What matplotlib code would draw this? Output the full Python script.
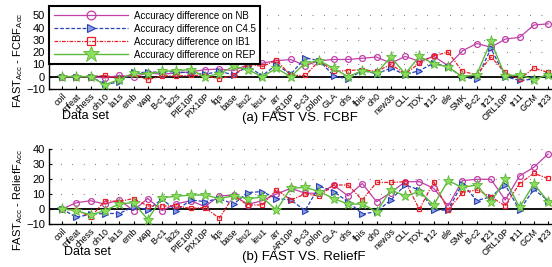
import matplotlib
matplotlib.use("Agg")
import matplotlib.pyplot as plt
import matplotlib.transforms as mtransforms
import numpy as np

plt.rcParams['font.family'] = ['Liberation Sans', 'DejaVu Sans']
plt.rcParams['mathtext.fontset'] = 'custom'
plt.rcParams['mathtext.rm'] = 'Liberation Sans'

datasets = ["coil", "mfeat", "chess", "oh10", "la1s", "emb", "wap", "B-c1", "la2s", "PIE10P",
            "PIX10P", "fqs", "base", "leu2", "leu1", "arr", "AR10P", "B-c3", "colon", "GLA",
            "ohs", "fbis", "oh0", "new3s", "CLL", "TOX", "tr12", "ele", "SMK", "B-c2",
            "tr21", "ORL10P", "tr11", "GCM", "tr23"]

# (a) FAST vs FCBF
fcbf_nb = [0, 0, 0, -1, 1, 0, 3, 2, 3, 4,
           5.7, 6.2, 5, 9.8, 11, 13, 14, 9, 13, 14,
           14, 15, 16, 11, 16.5, 12.5, 16.5, 9, 21, 27,
           24, 30.6, 32, 42, 43]
fcbf_c45 = [0, 0, 0, -6, -4.5, 3.5, 3.5, 4, 4, 3,
            2, 4.3, 1.6, 8.4, 0.8, 9.8, 2, 15.4, 13, 0.8,
            -2, 5, 2.4, 7, 1.6, 5, 11, 8, -0.3, -2,
            23, 0, -3, -2, 1.6]
fcbf_ib1 = [0, 0, 0, 1, -1.5, 2, -2.5, 0.8, 0.5, 1.2,
            0.8, -1.6, 1, 10.3, 8.4, 13.3, 1, 1, 13, 4.3,
            5, 5.7, 4.3, 10, 2.4, 11, 17, 20, 4.3, 1.6,
            16, 3.5, -2, 7, 3.5]
fcbf_rep = [0, 0, 0, -6.5, -2.4, 3, 2, 4.3, 5, 5.7,
            0, 2.4, 8.4, 5.7, 0, 6.8, 0, 11, 13, 6.8,
            0, 5, 3, 16, 2.4, 16.5, 10.5, 8, 0, 1.6,
            28.7, 0.5, 1.6, -2.3, 1.6]

# (b) FAST vs ReliefF
rel_nb = [0, 4.2, 5.5, 3.3, 6, -1, 7, -1, 3.5, 5.5,
          1.6, 8.7, 9.3, 3, 5.6, 10, 13.8, 10.6, 10.4, 16,
          8.7, 17, 4.9, 11, 18.2, 18.2, 13.8, 2, 18.9, 19.8,
          19.8, 6, 22, 27.8, 36.7]
rel_c45 = [0, -5.5, -3.5, -3, -3, 1.5, -0.5, 6.5, -1, 6,
           4.9, 7, 3.3, 11, 11.6, 7, 6, -1, 15.3, 11.6,
           4.9, -3.3, -1.8, 6, 16, 12.7, -0.7, -0.7, 17, 5.6,
           8.2, 16, -0.7, 13.1, 5.6]
rel_ib1 = [0, -0.5, -5.5, 5.5, 5, 7, 2, 2, 2, 0.4,
           1, -6.2, 8.7, 2.7, 2.7, 13, 6, 10, 8.7, 16,
           16, 6, 17.7, 17.7, 18.2, -0.2, 18.2, -0.7, 11, 12.7,
           8.2, 2, 17, 23.8, 20.4]
rel_rep = [0, -1, -4, -1, 3.3, 4.3, -7, 7.5, 8.5, 9.3,
           9.3, 7, 8.7, 7, 7.8, -0.7, 13.8, 14.4, 11.6, 7,
           3.3, 3.3, -1.8, 12.7, 8.7, 11.6, 2.7, 18.9, 14.4, 16,
           4.9, 19.8, 1.1, 16.7, 5]

labels = ["Accuracy difference on NB", "Accuracy difference on C4.5",
          "Accuracy difference on IB1", "Accuracy difference on REP"]

W, H = 552, 267
fig = plt.figure(figsize=(W / 100, H / 100), dpi=100)

def px_axes(l, t, r, b):
    return [l / W, 1 - b / H, (r - l) / W, (b - t) / H]

ax1 = fig.add_axes(px_axes(49, 6, 552, 89))
ax2 = fig.add_axes(px_axes(49, 149, 552, 224))

C_NB = '#c03fa8'
C_C45 = '#2840b8'
C_IB1 = '#e8202a'
C_REP = '#5cb83a'

x = np.arange(len(datasets))

def draw(ax, nb, c45, ib1, rep):
    ax.axhline(0, color='black', lw=1.3, zorder=1)
    l1, = ax.plot(x, nb, color=C_NB, lw=0.9, ls='-', marker='o', ms=4.2,
                  mfc='none', mec=C_NB, mew=0.9, clip_on=False, zorder=3)
    l2, = ax.plot(x, c45, color=C_C45, lw=0.9, ls=(0, (3, 1.5)), marker='>', ms=4.2,
                  mfc='#8fa0e0', mec=C_C45, mew=0.8, clip_on=False, zorder=3)
    l3, = ax.plot(x, ib1, color=C_IB1, lw=0.9, ls=(0, (3, 1, 1, 1)), marker='s', ms=3.5,
                  mfc='none', mec=C_IB1, mew=0.9, clip_on=False, zorder=3)
    l4, = ax.plot(x, rep, color=C_REP, lw=1.0, ls='-', marker='*', ms=8,
                  mfc='#8ede5e', mec=C_REP, mew=0.6, clip_on=False, zorder=4)
    ax.set_xlim(-0.91, 34.27)
    ax.set_xticks(x)
    ax.set_xticklabels(datasets, rotation=45, ha='right', rotation_mode='anchor', fontsize=6.5)
    off = mtransforms.ScaledTranslation(-4 / 100, -1 / 100, fig.dpi_scale_trans)
    for lab in ax.get_xticklabels():
        lab.set_transform(lab.get_transform() + off)
    ax.tick_params(axis='x', length=2, direction='in', pad=2)
    ax.tick_params(axis='y', length=2, direction='in', labelsize=8, pad=3)
    for s in ['top', 'right']:
        ax.spines[s].set_visible(False)
    ax.spines['left'].set_linewidth(1.0)
    ax.spines['bottom'].set_linewidth(1.0)
    ax.yaxis.grid(True, color='#444444', lw=0.8, ls=(0, (0.6, 9.7)))
    ax.set_axisbelow(True)
    return [l1, l2, l3, l4]

hs = draw(ax1, fcbf_nb, fcbf_c45, fcbf_ib1, fcbf_rep)
ax1.set_ylim(-10, 57.5)
ax1.set_yticks([-10, 0, 10, 20, 30, 40, 50])

draw(ax2, rel_nb, rel_c45, rel_ib1, rel_rep)
ax2.set_ylim(-10, 40)
ax2.set_yticks([-10, 0, 10, 20, 30, 40])

leg = ax1.legend(hs, labels, loc='upper left', bbox_to_anchor=(0, 1), fontsize=7,
                 handlelength=7.6, handletextpad=0.6, labelspacing=0.3,
                 borderpad=0.5, borderaxespad=0, fancybox=False, framealpha=1,
                 edgecolor='black', markerscale=1.5)
leg.get_frame().set_linewidth(1.5)
leg.set_zorder(10)

def ftext(px, py, s, **kw):
    fig.text(px / W, 1 - py / H, s, **kw)

ftext(85, 116, "Data set", fontsize=9, ha='center', va='center')
ftext(87, 252, "Data set", fontsize=9, ha='center', va='center')
ftext(300, 118, "(a) FAST VS. FCBF", fontsize=9.5, ha='center', va='center')
ftext(304, 257, "(b) FAST VS. ReliefF", fontsize=9.5, ha='center', va='center')
ftext(18, 60, r"FAST$_{\rm Acc}$ - FCBF$_{\rm Acc}$", fontsize=8, ha='center', va='center', rotation=90)
ftext(18, 200, r"FAST$_{\rm Acc}$ - ReliefF$_{\rm Acc}$", fontsize=8, ha='center', va='center', rotation=90)

fig.savefig("out.png", dpi=100)
